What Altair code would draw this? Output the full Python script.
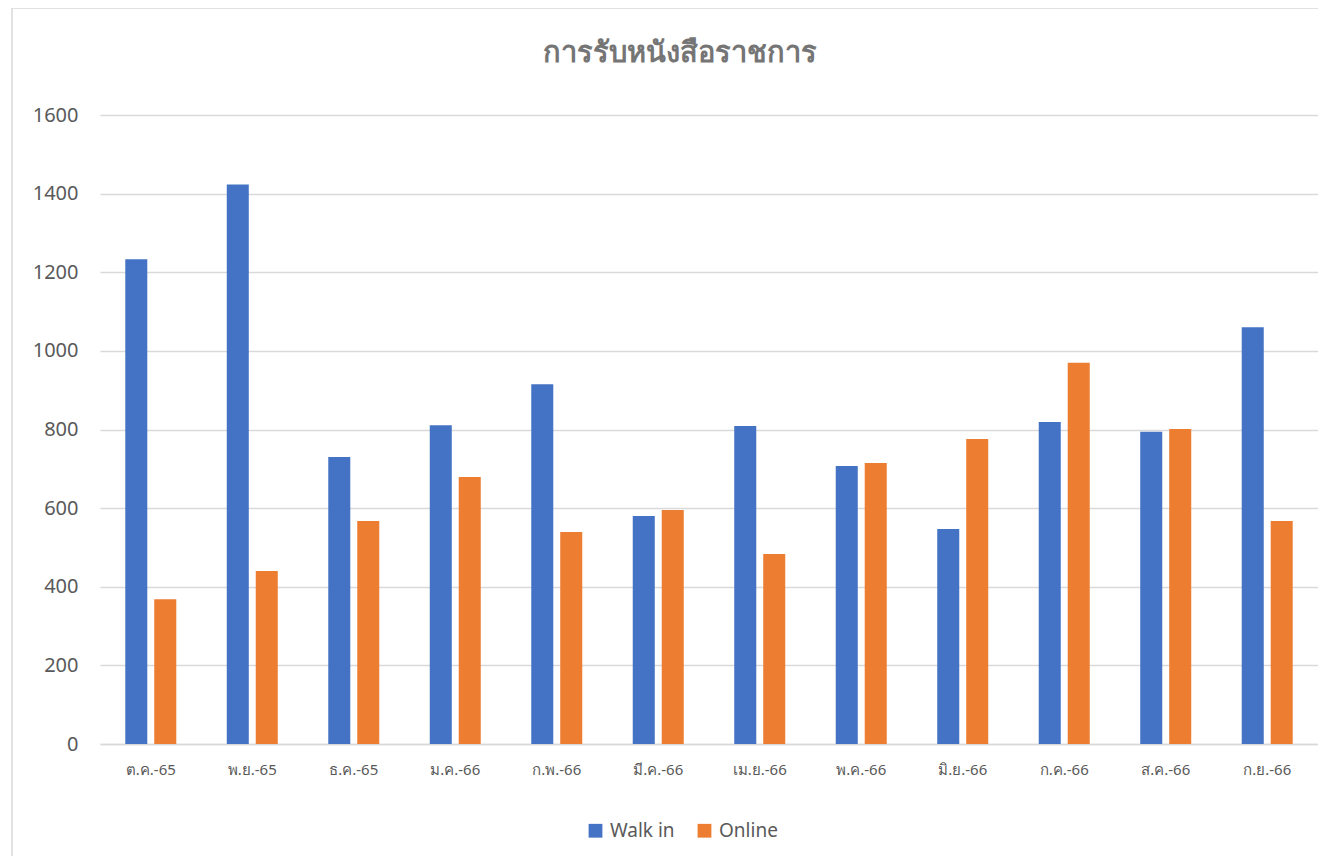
import altair as alt
import pandas as pd

title_text = "การรับหนังสือราชการ"
months = ["ต.ค.-65", "พ.ย.-65", "ธ.ค.-65", "ม.ค.-66", "ก.พ.-66", "มี.ค.-66",
          "เม.ย.-66", "พ.ค.-66", "มิ.ย.-66", "ก.ค.-66", "ส.ค.-66", "ก.ย.-66"]
walk_in = [1233, 1423, 730, 811, 915, 580, 809, 707, 547, 819, 794, 1060]
online = [368, 440, 567, 679, 539, 595, 483, 715, 776, 970, 801, 567]
series = ["Walk in", "Online"]
colors = ["#4472C4", "#ED7D31"]

rows = []
for m, w, o in zip(months, walk_in, online):
    rows.append({"month": m, "series": series[0], "value": w})
    rows.append({"month": m, "series": series[1], "value": o})
df = pd.DataFrame(rows)

FONT = "Noto Sans"
GRAY = "#595959"

bars = alt.Chart(df).mark_bar().encode(
    x=alt.X("month:N", sort=months, title=None,
            scale=alt.Scale(paddingInner=0.4975, paddingOuter=0.249),
            axis=alt.Axis(labelAngle=0, labelFontSize=15, labelColor=GRAY,
                          labelFont=FONT, labelPadding=18, ticks=False,
                          domain=True, domainColor="#d9d9d9", domainWidth=1.5)),
    xOffset=alt.XOffset("series:N", sort=series,
                        scale=alt.Scale(paddingInner=0.24, paddingOuter=0)),
    y=alt.Y("value:Q", title=None,
            scale=alt.Scale(domain=[0, 1600], nice=False),
            axis=alt.Axis(values=[0, 200, 400, 600, 800, 1000, 1200, 1400, 1600],
                          format="d",
                          labelFontSize=20, labelColor=GRAY, labelFont=FONT,
                          labelPadding=22, ticks=False, domain=False,
                          gridColor="#d9d9d9", gridWidth=1.3)),
    color=alt.Color("series:N", sort=series,
                    scale=alt.Scale(domain=series, range=colors),
                    legend=alt.Legend(title=None, orient="none", direction="horizontal",
                                      legendX=486, legendY=706, symbolType="square",
                                      symbolSize=190, symbolStrokeWidth=0,
                                      labelFontSize=19, labelColor=GRAY,
                                      labelFont=FONT, columnPadding=20,
                                      labelOffset=5)),
)

title = alt.Chart(pd.DataFrame({"t": [title_text]})).mark_text(
    fontSize=29, fontWeight="bold", color="#757575", font=FONT,
    align="center", baseline="middle", clip=False
).encode(text="t:N", x=alt.value(580), y=alt.value(-62))

border = alt.Chart(pd.DataFrame({"a": [0]})).mark_rect(
    fill=None, stroke="#d9d9d9", strokeWidth=1.5, clip=False
).encode(
    x=alt.value(-88), x2=alt.value(1250), y=alt.value(-107), y2=alt.value(140 + 629)
)

chart = alt.layer(border, bars, title).properties(
    width=1218, height=629,
    background="white",
    autosize=alt.AutoSizeParams(type="none"),
    padding={"left": 92, "top": 107, "right": 0, "bottom": 112},
).configure_view(strokeWidth=0, stroke=None)

chart.save("out.html", embed_options={"renderer": "svg", "actions": False})
